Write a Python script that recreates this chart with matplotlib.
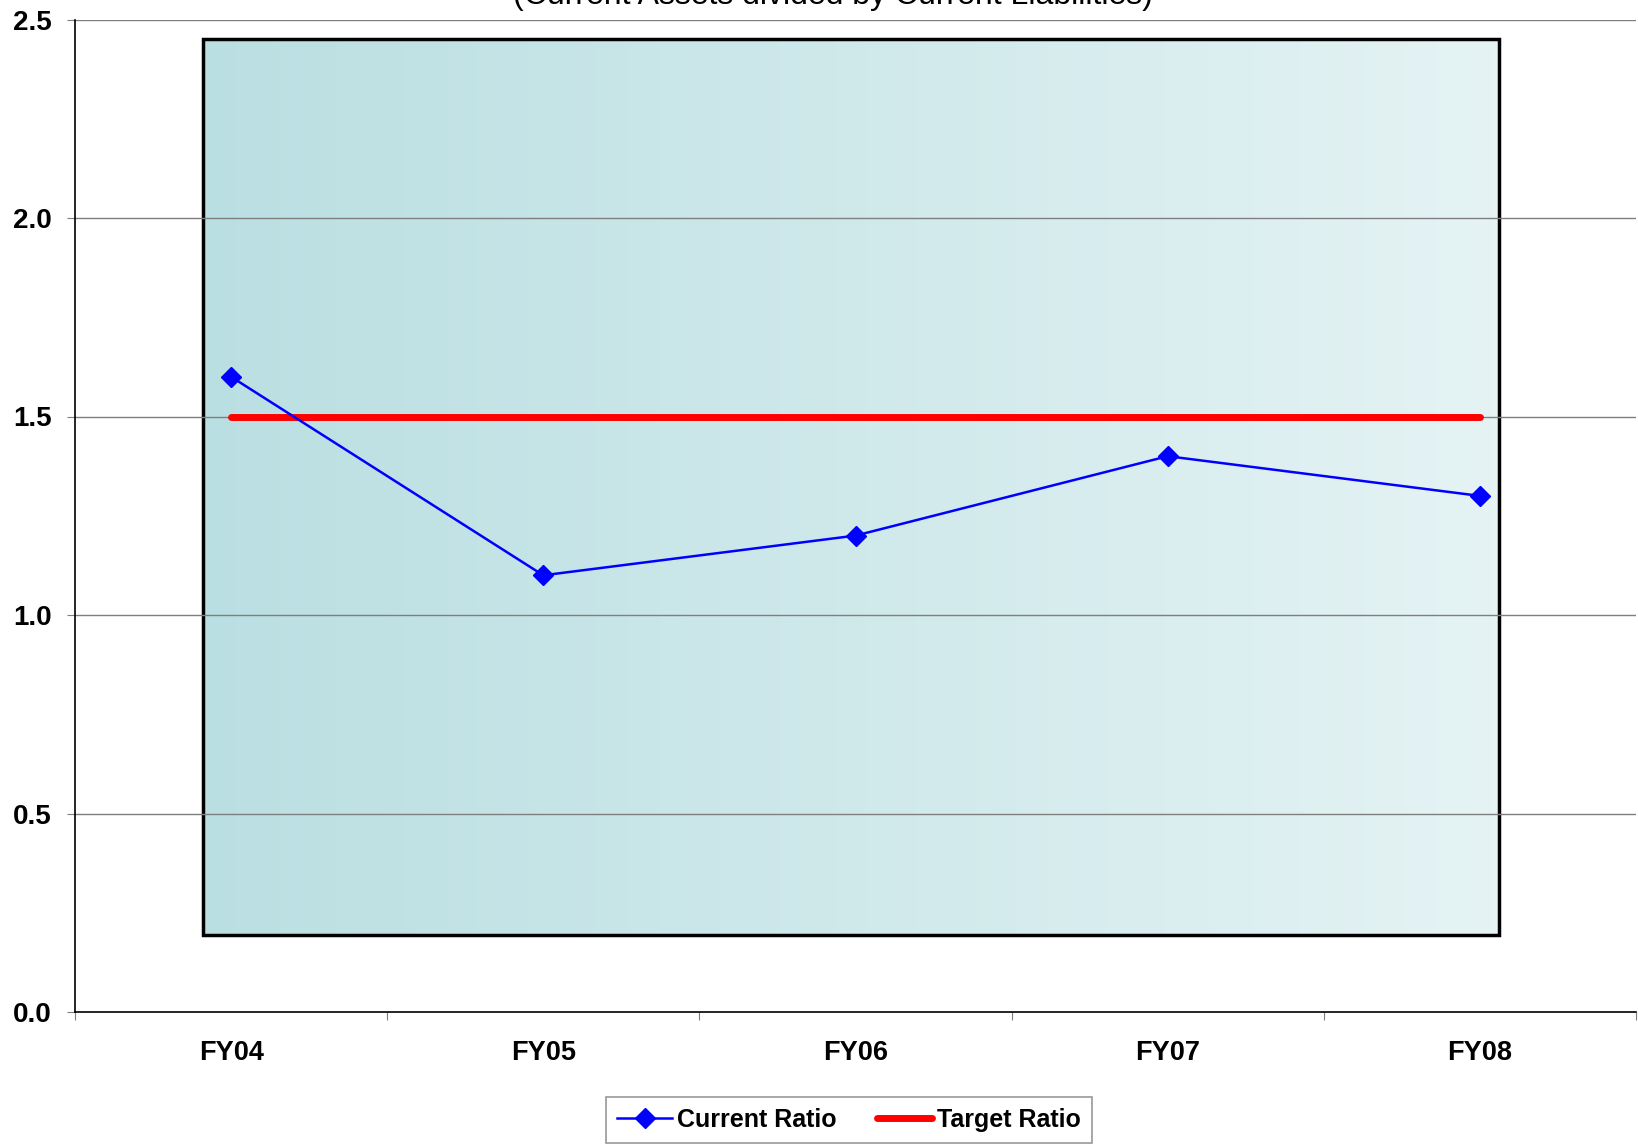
import numpy as np
import matplotlib
matplotlib.use("Agg")
import matplotlib.pyplot as plt
from matplotlib.patches import Rectangle
from matplotlib.colors import LinearSegmentedColormap

years = ["FY04", "FY05", "FY06", "FY07", "FY08"]
current_ratio = [1.6, 1.1, 1.2, 1.4, 1.3]
target_ratio = [1.5, 1.5, 1.5, 1.5, 1.5]
y_ticks = [0.0, 0.5, 1.0, 1.5, 2.0, 2.5]

plt.rcParams["font.family"] = ["Liberation Sans", "DejaVu Sans"]

fig = plt.figure(figsize=(16.38, 11.46), dpi=100)
ax = fig.add_axes([75 / 1638, 1 - 1012 / 1146, (1636 - 75) / 1638, (1012 - 19.5) / 1146])

x = np.arange(len(years)) + 0.5
ax.set_xlim(0, len(years))
ax.set_ylim(0, 2.5)

# gradient plot-area box
cmap = LinearSegmentedColormap.from_list("bg", ["#BADFE2", "#E5F3F4"])
grad = np.linspace(0, 1, 256).reshape(1, -1)
ax.imshow(grad, cmap=cmap, aspect="auto", extent=[0.41, 4.56, 0.194, 2.45],
          zorder=0.5, interpolation="bilinear")
ax.add_patch(Rectangle((0.41, 0.194), 4.56 - 0.41, 2.45 - 0.194, fill=False,
                       edgecolor="black", linewidth=2.5, zorder=0.8))

for yv in y_ticks[1:]:
    ax.axhline(yv, color="#7f7f7f", linewidth=1.0, zorder=1)

ax.plot(x, target_ratio, color="#FF0000", linewidth=5, solid_capstyle="round",
        label="Target Ratio", zorder=3)
ax.plot(x, current_ratio, color="#0000FF", linewidth=1.8, marker="D",
        markersize=10, label="Current Ratio", zorder=4)

ax.spines["top"].set_visible(False)
ax.spines["right"].set_visible(False)
ax.spines["left"].set_linewidth(1.2)
ax.spines["bottom"].set_linewidth(1.2)

ax.set_yticks(y_ticks)
ax.set_yticklabels([f"{v:.1f}" for v in y_ticks], fontsize=20, fontweight="bold")
ax.set_xticks(np.arange(len(years) + 1))
ax.set_xticklabels([])
ax.set_xticks(x, minor=True)
ax.set_xticklabels(years, minor=True, fontsize=19.5, fontweight="bold")
ax.tick_params(axis="x", which="minor", length=0, pad=20)
ax.tick_params(axis="x", which="major", length=6, color="#7f7f7f")
ax.tick_params(axis="y", length=6, color="#7f7f7f", pad=11)
ax.patch.set_alpha(0)

fig.text(833 / 1638, 1 - 4 / 1146, "(Current Assets divided by Current Liabilities)",
         ha="center", va="baseline", fontsize=23)

handles, labels = ax.get_legend_handles_labels()
leg = fig.legend(handles[::-1], labels[::-1], loc="center",
                 bbox_to_anchor=(849 / 1638, 1 - 1120 / 1146), ncol=2,
                 fontsize=18, frameon=True, fancybox=False, edgecolor="#7f7f7f",
                 handlelength=2.2, columnspacing=1.6, handletextpad=0.2,
                 borderpad=0.45)
for t in leg.get_texts():
    t.set_fontweight("bold")
leg.get_frame().set_linewidth(1.2)

fig.savefig("out.png", dpi=100)
